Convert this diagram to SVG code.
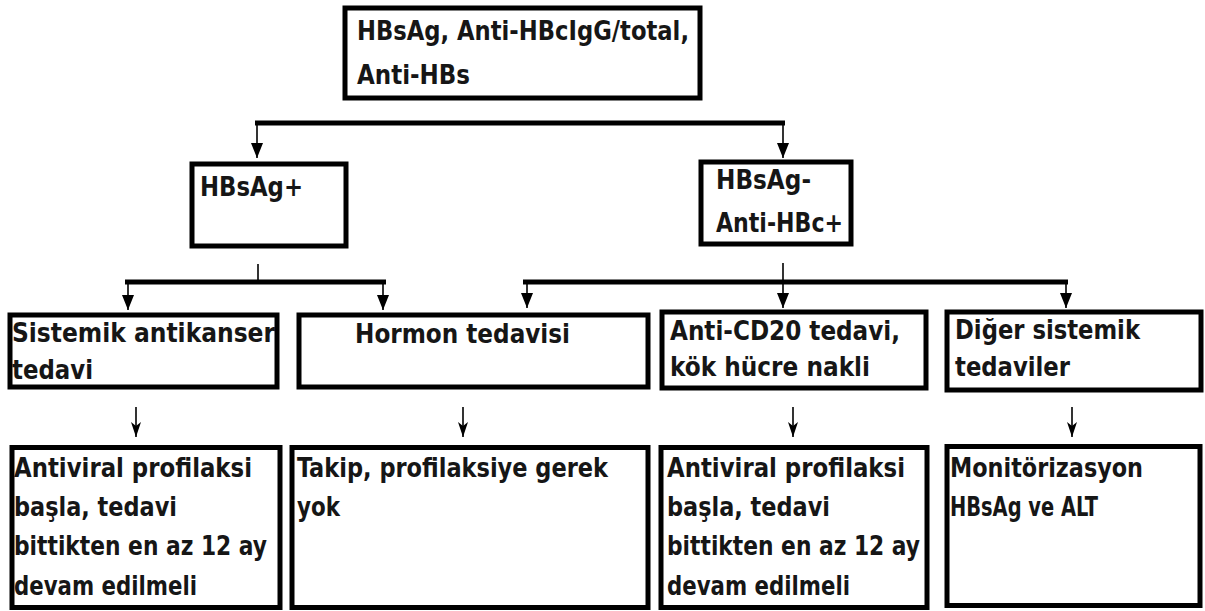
<svg xmlns="http://www.w3.org/2000/svg" width="1205" height="611" viewBox="0 0 1205 611">
  <defs>
    <style>
      .box { fill: #fff; stroke: #000; stroke-width: 5; }
      .bar { stroke: #000; stroke-width: 5; fill: none; }
      .stem { stroke: #000; stroke-width: 1.6; fill: none; }
      .lbl { font-family: "DejaVu Sans Condensed", "Liberation Sans", sans-serif; font-weight: bold; font-size: 27px; fill: #161616; }
    </style>
    <!-- heads point along the line direction -->
    <marker id="head" viewBox="0 0 15 12" refX="15" refY="6" markerWidth="15" markerHeight="12" markerUnits="userSpaceOnUse" orient="auto">
      <path d="M0,0 L15,6 L0,12 Z" fill="#000"/>
    </marker>
    <marker id="tip" viewBox="0 0 15 10" refX="15" refY="5" markerWidth="15" markerHeight="10" markerUnits="userSpaceOnUse" orient="auto">
      <path d="M0,0 L4,5 L0,10 L15,5 Z" fill="#000"/>
    </marker>
  </defs>
  <rect width="1205" height="611" fill="#fff"/>

  <!-- connectors -->
  <g id="connectors">
    <line class="bar" x1="255" y1="123" x2="785" y2="123"/>
    <line class="stem" x1="257" y1="123" x2="257" y2="158" marker-end="url(#head)"/>
    <line class="stem" x1="783" y1="123" x2="783" y2="158" marker-end="url(#head)"/>

    <line class="stem" x1="258" y1="264" x2="258" y2="281"/>
    <line class="bar" x1="125" y1="282" x2="386" y2="282"/>
    <line class="stem" x1="128" y1="282" x2="128" y2="310" marker-end="url(#head)"/>
    <line class="stem" x1="383" y1="282" x2="383" y2="310" marker-end="url(#head)"/>

    <line class="stem" x1="783" y1="263" x2="783" y2="308" marker-end="url(#head)"/>
    <line class="bar" x1="523" y1="282" x2="1068" y2="282"/>
    <line class="stem" x1="527" y1="282" x2="527" y2="308" marker-end="url(#head)"/>
    <line class="stem" x1="1066" y1="282" x2="1066" y2="308" marker-end="url(#head)"/>

    <line class="stem" x1="136" y1="407" x2="136" y2="437" marker-end="url(#tip)"/>
    <line class="stem" x1="463" y1="407" x2="463" y2="437" marker-end="url(#tip)"/>
    <line class="stem" x1="793" y1="407" x2="793" y2="437" marker-end="url(#tip)"/>
    <line class="stem" x1="1072" y1="407" x2="1072" y2="437" marker-end="url(#tip)"/>
  </g>

  <g id="node-root">
    <rect class="box" x="345" y="8" width="355" height="90"/>
    <text class="lbl" x="357" y="40" textLength="332" lengthAdjust="spacingAndGlyphs">HBsAg, Anti-HBcIgG/total,</text>
    <text class="lbl" x="357" y="84" textLength="113" lengthAdjust="spacingAndGlyphs">Anti-HBs</text>
  </g>

  <g id="node-hbsag-pos">
    <rect class="box" x="192" y="164" width="154" height="82"/>
    <text class="lbl" x="200" y="196" textLength="103" lengthAdjust="spacingAndGlyphs">HBsAg+</text>
  </g>

  <g id="node-hbsag-neg">
    <rect class="box" x="701" y="162" width="150" height="82"/>
    <text class="lbl" x="716" y="189" textLength="95" lengthAdjust="spacingAndGlyphs">HBsAg-</text>
    <text class="lbl" x="716" y="232" textLength="127" lengthAdjust="spacingAndGlyphs">Anti-HBc+</text>
  </g>

  <g id="node-sistemik">
    <rect class="box" x="10" y="315" width="267" height="72"/>
    <text class="lbl" x="12" y="342" textLength="263" lengthAdjust="spacingAndGlyphs">Sistemik antikanser</text>
    <text class="lbl" x="12" y="379" textLength="81" lengthAdjust="spacingAndGlyphs">tedavi</text>
  </g>

  <g id="node-hormon">
    <rect class="box" x="299" y="315" width="349" height="72"/>
    <text class="lbl" x="355" y="343" textLength="215" lengthAdjust="spacingAndGlyphs">Hormon tedavisi</text>
  </g>

  <g id="node-anticd20">
    <rect class="box" x="662" y="312" width="264" height="76"/>
    <text class="lbl" x="670" y="340" textLength="230" lengthAdjust="spacingAndGlyphs">Anti-CD20 tedavi,</text>
    <text class="lbl" x="670" y="376" textLength="200" lengthAdjust="spacingAndGlyphs">kök hücre nakli</text>
  </g>

  <g id="node-diger">
    <rect class="box" x="947" y="312" width="254" height="78"/>
    <text class="lbl" x="955" y="339" textLength="185" lengthAdjust="spacingAndGlyphs">Diğer sistemik</text>
    <text class="lbl" x="955" y="376" textLength="115" lengthAdjust="spacingAndGlyphs">tedaviler</text>
  </g>

  <g id="node-antiviral-1">
    <rect class="box" x="12" y="447.5" width="268" height="160"/>
    <text class="lbl" x="14" y="477" textLength="238" lengthAdjust="spacingAndGlyphs">Antiviral profilaksi</text>
    <text class="lbl" x="14" y="516" textLength="163" lengthAdjust="spacingAndGlyphs">başla, tedavi</text>
    <text class="lbl" x="14" y="555" textLength="253" lengthAdjust="spacingAndGlyphs">bittikten en az 12 ay</text>
    <text class="lbl" x="14" y="595" textLength="183" lengthAdjust="spacingAndGlyphs">devam edilmeli</text>
  </g>

  <g id="node-takip">
    <rect class="box" x="292" y="447.5" width="356" height="160"/>
    <text class="lbl" x="297" y="477" textLength="311" lengthAdjust="spacingAndGlyphs">Takip, profilaksiye gerek</text>
    <text class="lbl" x="297" y="516" textLength="43" lengthAdjust="spacingAndGlyphs">yok</text>
  </g>

  <g id="node-antiviral-2">
    <rect class="box" x="661" y="447.5" width="266" height="160"/>
    <text class="lbl" x="667" y="477" textLength="238" lengthAdjust="spacingAndGlyphs">Antiviral profilaksi</text>
    <text class="lbl" x="667" y="516" textLength="163" lengthAdjust="spacingAndGlyphs">başla, tedavi</text>
    <text class="lbl" x="667" y="555" textLength="253" lengthAdjust="spacingAndGlyphs">bittikten en az 12 ay</text>
    <text class="lbl" x="667" y="595" textLength="183" lengthAdjust="spacingAndGlyphs">devam edilmeli</text>
  </g>

  <g id="node-monitor">
    <rect class="box" x="947" y="446.5" width="253" height="159"/>
    <text class="lbl" x="950" y="477" textLength="193" lengthAdjust="spacingAndGlyphs">Monitörizasyon</text>
    <text class="lbl" x="950" y="516" textLength="148" lengthAdjust="spacingAndGlyphs">HBsAg ve ALT</text>
  </g>
</svg>
